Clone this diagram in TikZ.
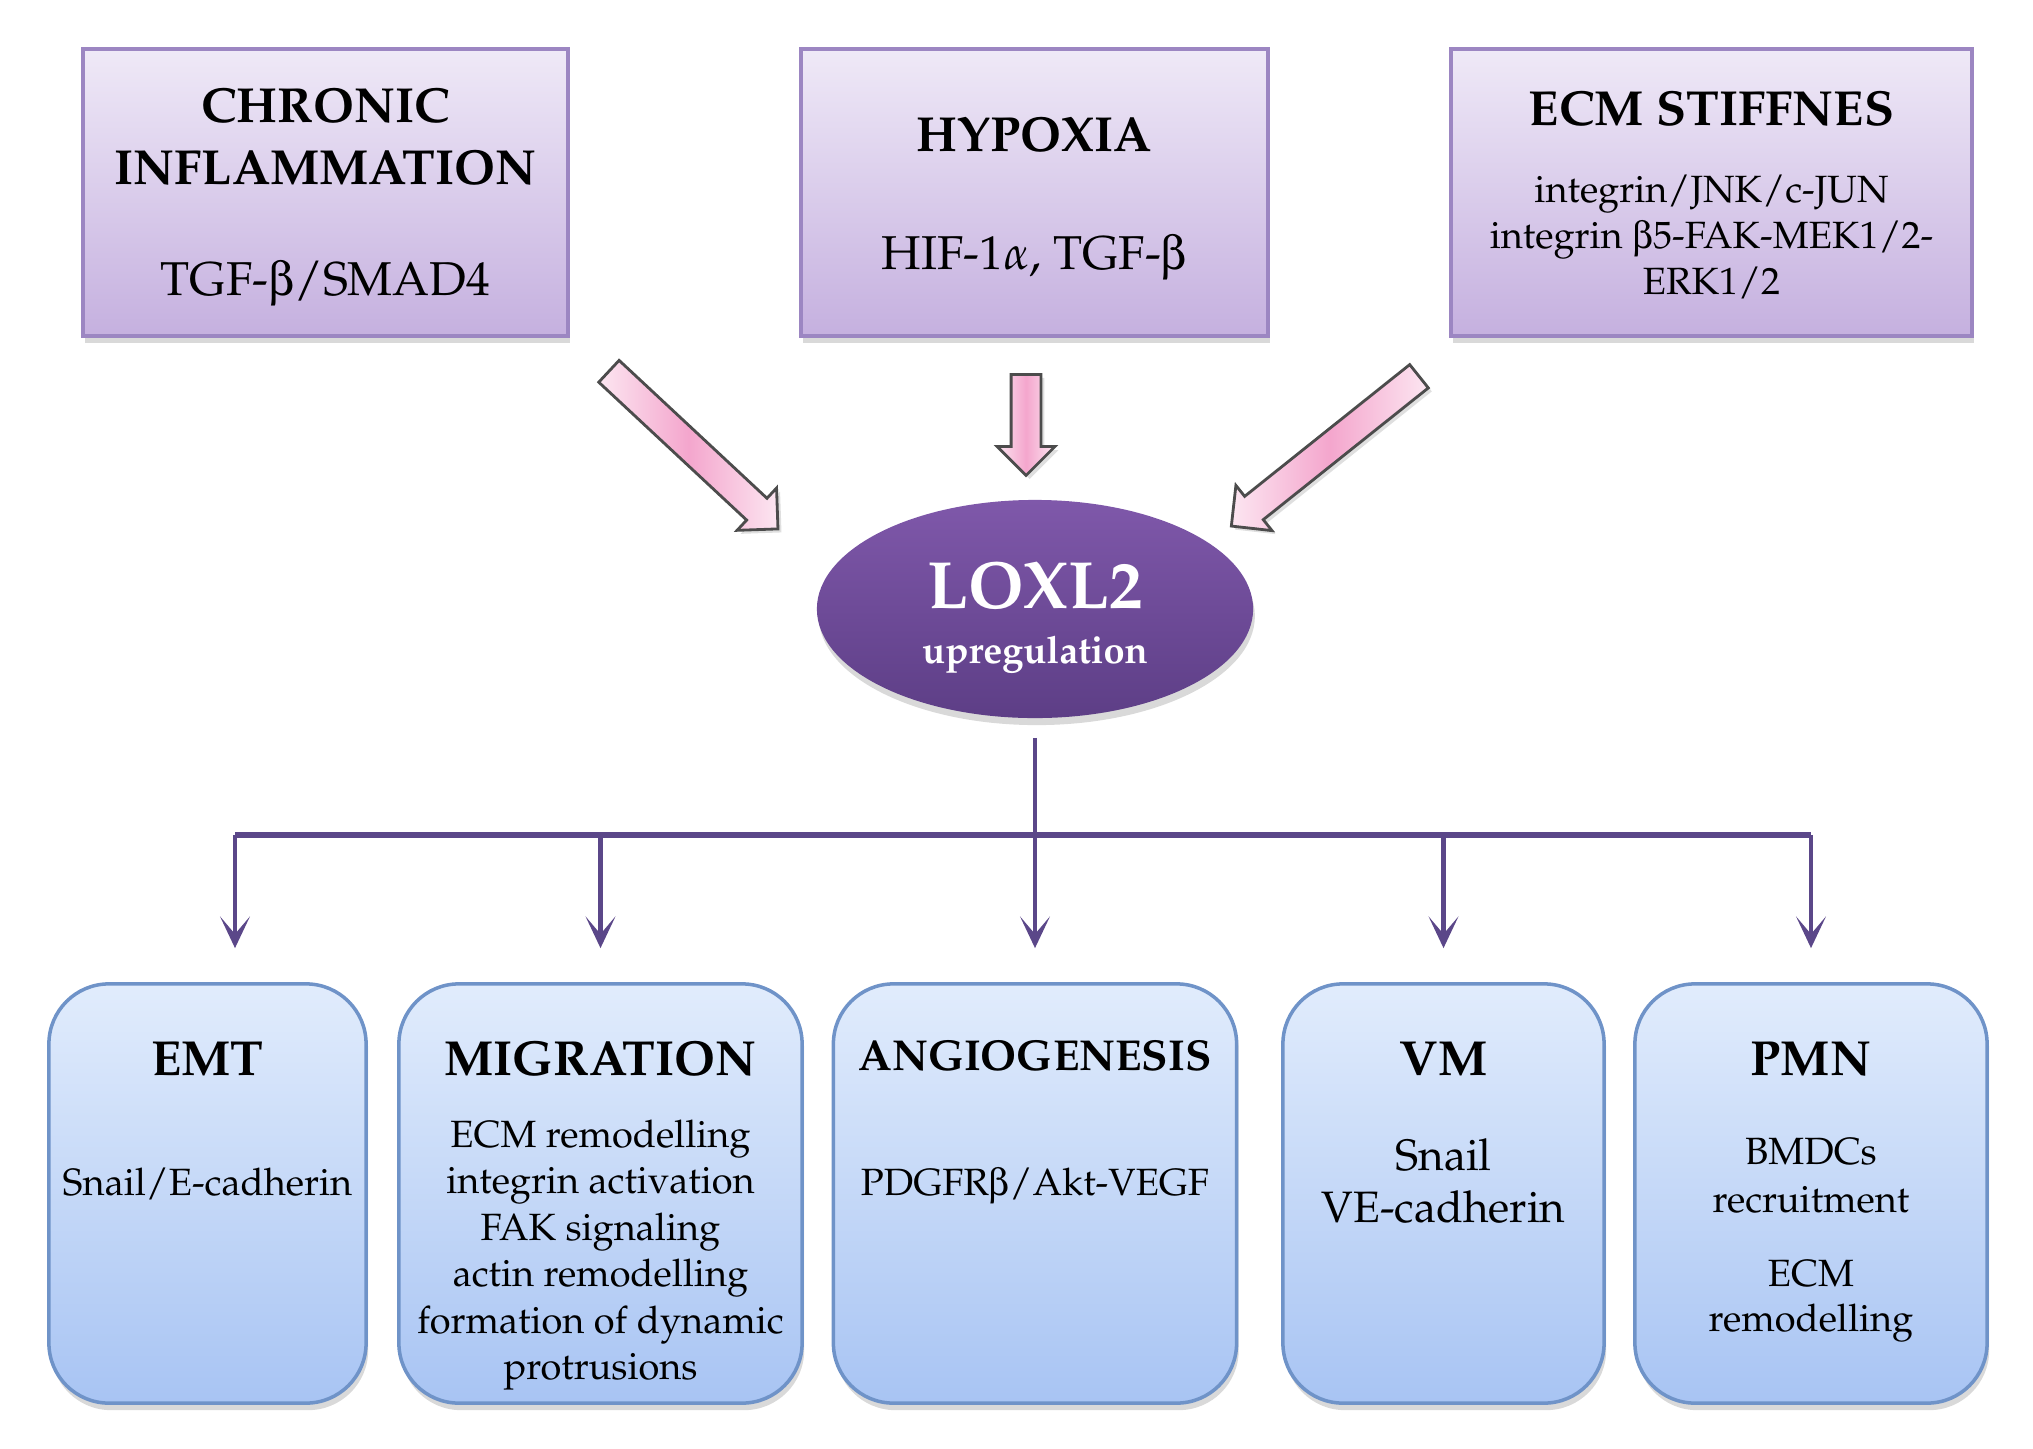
\documentclass[tikz,border=0pt]{standalone}
\usepackage[T1]{fontenc}
\usepackage{mathpazo}
\usepackage[Symbol]{upgreek}
\usetikzlibrary{shapes.geometric,shapes.arrows,arrows.meta,shadows,positioning}

\definecolor{lavtop}{HTML}{EFE9F7}
\definecolor{lavbot}{HTML}{C5B0DF}
\definecolor{lavline}{HTML}{9C86C2}
\definecolor{bluetop}{HTML}{E1ECFC}
\definecolor{bluebot}{HTML}{A8C4F3}
\definecolor{blueline}{HTML}{6F93C8}
\definecolor{loxtop}{HTML}{7F58AA}
\definecolor{loxbot}{HTML}{5D3E86}
\definecolor{connpurple}{HTML}{5B4789}
\definecolor{pinkmid}{HTML}{F4A6CD}
\definecolor{pinkend}{HTML}{FCE6F1}

\tikzset{
  bigttl/.style={font=\fontsize{14}{17}\selectfont\bfseries},
  bigsub/.style={font=\fontsize{13.5}{16}\selectfont},
  smallsub/.style={font=\fontsize{10.8}{13}\selectfont},
  conn/.style={draw=connpurple, line width=1.2pt, -{Stealth[length=9pt,width=8.5pt,inset=5pt]}, shorten >=.34cm},
  bus/.style={draw=connpurple, line width=1.6pt}
}

\begin{document}
\begin{tikzpicture}[x=.01cm, y=-.01cm]
  \useasboundingbox (0,0) rectangle (2033,1448);

  % causes
  \begin{scope}[every node/.style={rectangle, draw=lavline, line width=1pt, top color=lavtop, bottom color=lavbot,
      drop shadow={opacity=.3, shadow xshift=.6pt, shadow yshift=-2pt}, minimum height=2.87cm}]
    \node[minimum width=4.85cm] (infl) at (325.5,192.5) {};
    \node[minimum width=4.67cm] (hyp)  at (1034.5,192.5) {};
    \node[minimum width=5.21cm] (ecm)  at (1711.5,192.5) {};
  \end{scope}

  \begin{scope}[every node/.style={anchor=base, inner sep=0pt}]
    \node[bigttl]   (infl1) at (325.5,122)  {CHRONIC};
    \node[bigttl]   (infl2) at (325.5,184)  {INFLAMMATION};
    \node[bigsub]   (infl3) at (325.5,295)  {TGF-$\upbeta$/SMAD4};
    \node[bigttl]   (hyp1)  at (1034.5,151) {HYPOXIA};
    \node[bigsub]   (hyp2)  at (1034.5,269) {HIF-1$\alpha$, TGF-$\upbeta$};
    \node[bigttl]   (ecm1)  at (1711.5,125) {ECM STIFFNES};
    \node[smallsub] (ecm2)  at (1711.5,202) {integrin/JNK/c-JUN};
    \node[smallsub] (ecm3)  at (1711.5,248) {integrin $\upbeta$5-FAK-MEK1/2-};
    \node[smallsub] (ecm4)  at (1711.5,294) {ERK1/2};
  \end{scope}

  % block arrows
  \begin{scope}[every node/.style={single arrow, draw=black!70, line width=.8pt, left color=pinkend, right color=pinkend,
      middle color=pinkmid, minimum width=.55cm, single arrow head extend=.14cm, inner sep=.135cm,
      drop shadow={opacity=.25, shadow xshift=1pt, shadow yshift=-1pt}}]
    \node[minimum height=2.31cm, rotate=-43]    (p1) at (688,445)    {};
    \node[minimum height=1.01cm, rotate=-90]    (p2) at (1026,417.5) {};
    \node[minimum height=2.40cm, rotate=-141.4] (p3) at (1331,446.5) {};
  \end{scope}

  \node[ellipse, minimum width=4.36cm, minimum height=2.18cm, top color=loxtop, bottom color=loxbot,
    drop shadow={opacity=.3, shadow xshift=.5pt, shadow yshift=-2pt}] (lox) at (1035,609) {};
  \node[anchor=base, text=white, inner sep=0pt, font=\fontsize{19}{22}\selectfont\bfseries] (lox1) at (1035,608) {LOXL2};
  \node[anchor=base, text=white, inner sep=0pt, font=\fontsize{10.8}{13}\selectfont\bfseries] (lox2) at (1035,663) {upregulation};

  % effects
  \begin{scope}[every node/.style={rectangle, rounded corners=.6cm, draw=blueline, line width=1pt, top color=bluetop,
      bottom color=bluebot, drop shadow={opacity=.3, shadow xshift=.6pt, shadow yshift=-2pt}, minimum height=4.19cm}]
    \node[minimum width=3.17cm] (emt) at (207.5,1193.5) {};
    \node[minimum width=4.03cm] (mig) at (600.5,1193.5) {};
    \node[minimum width=4.03cm] (ang) at (1035,1193.5)  {};
    \node[minimum width=3.21cm] (vm)  at (1443.5,1193.5) {};
    \node[minimum width=3.52cm] (pmn) at (1811,1193.5)  {};
  \end{scope}

  \begin{scope}[every node/.style={anchor=base, inner sep=0pt}]
    \node[bigttl]   (emt1) at (207.5,1075) {EMT};
    \node[smallsub] (emt2) at (207.5,1195) {Snail/E-cadherin};
    \node[bigttl]   (mig1) at (600.5,1075) {MIGRATION};
    \node[smallsub] (mig2) at (600.5,1147) {ECM remodelling};
    \node[smallsub] (mig3) at (600.5,1193.5) {integrin activation};
    \node[smallsub] (mig4) at (600.5,1240) {FAK signaling};
    \node[smallsub] (mig5) at (600.5,1286.5) {actin remodelling};
    \node[smallsub] (mig6) at (600.5,1333) {formation of dynamic};
    \node[smallsub] (mig7) at (600.5,1379.5) {protrusions};
    \node[font=\fontsize{12.3}{15}\selectfont\bfseries] (ang1) at (1035,1070) {ANGIOGENESIS};
    \node[smallsub] (ang2) at (1035,1195) {PDGFR$\upbeta$/Akt-VEGF};
    \node[bigttl]   (vm1)  at (1443.5,1075) {VM};
    \node[font=\fontsize{12.5}{15}\selectfont] (vm2) at (1443.5,1170) {Snail};
    \node[font=\fontsize{12.5}{15}\selectfont] (vm3) at (1443.5,1222) {VE-cadherin};
    \node[bigttl]   (pmn1) at (1811,1075) {PMN};
    \node[smallsub] (pmn2) at (1811,1164) {BMDCs};
    \node[smallsub] (pmn3) at (1811,1212) {recruitment};
    \node[smallsub] (pmn4) at (1811,1286) {ECM};
    \node[smallsub] (pmn5) at (1811,1331) {remodelling};
  \end{scope}

  % connectors
  \coordinate (bl) at (235,835);
  \coordinate (br) at (1811,835);
  \draw[bus] (bl) -- (br);
  \draw[conn, shorten <=.19cm] (lox) -- (ang);
  \draw[conn] (bl) -- (bl |- emt.north);
  \draw[conn] (mig.north |- bl) -- (mig.north);
  \draw[conn] (vm.north |- bl) -- (vm.north);
  \draw[conn] (br) -- (pmn.north);

\end{tikzpicture}
\end{document}
